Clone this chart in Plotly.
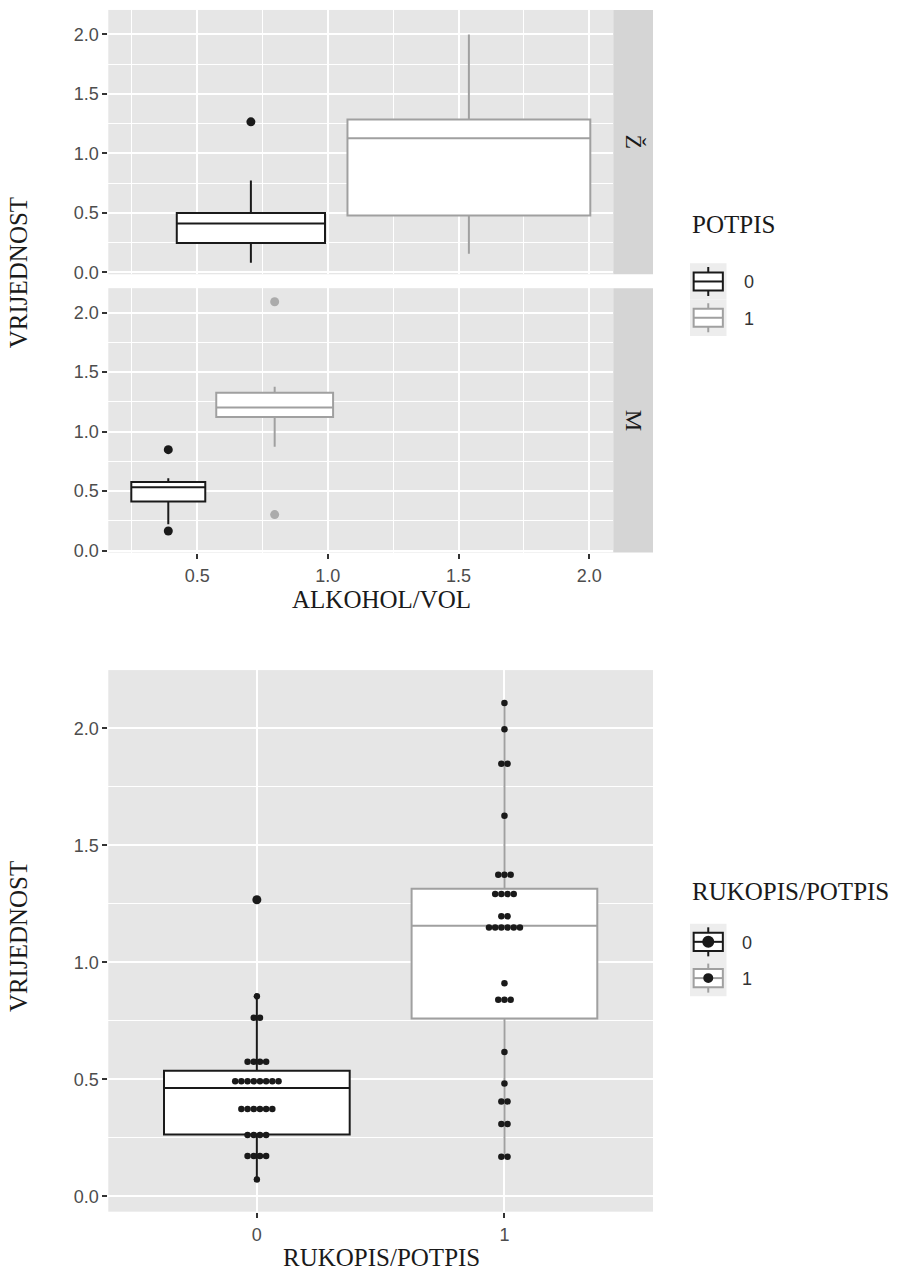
import plotly.graph_objects as go
from collections import Counter

W, H = 903, 1281

# ---------------- data ----------------
# Upper chart: VRIJEDNOST by ALKOHOL/VOL, facets Ž / M, groups POTPIS 0 / 1
potpis_levels = ["0", "1"]

# facet Ž
alk_min_z = [0.422, 1.075]
alk_max_z = [0.989, 2.004]
q1_z = [0.245, 0.477]
med_z = [0.409, 1.128]
q3_z = [0.499, 1.285]
low_z = [0.081, 0.155]
high_z = [0.771, 2.000]
out_z = [[1.265], []]

# facet M
alk_min_m = [0.248, 0.573]
alk_max_m = [0.531, 1.020]
q1_m = [0.413, 1.122]
med_m = [0.532, 1.203]
q3_m = [0.576, 1.327]
low_m = [0.220, 0.873]
high_m = [0.607, 1.377]
out_m = [[0.848, 0.164], [2.092, 0.302]]

# Lower chart: VRIJEDNOST by RUKOPIS/POTPIS
rukopis_levels = [0, 1]
q1_r = [0.265, 0.760]
med_r = [0.463, 1.157]
q3_r = [0.537, 1.315]
low_r = [0.073, 0.170]
high_r = [0.855, 2.108]
out_r = [[1.268], []]

dots_r0 = [0.073,
           0.173, 0.173, 0.173, 0.173,
           0.263, 0.263, 0.263, 0.263,
           0.374, 0.374, 0.374, 0.374, 0.374, 0.374,
           0.492, 0.492, 0.492, 0.492, 0.492, 0.492, 0.492, 0.492,
           0.576, 0.576, 0.576, 0.576,
           0.764, 0.764,
           0.855,
           1.268]
dots_r1 = [0.170, 0.170,
           0.310, 0.310,
           0.406, 0.406,
           0.483,
           0.617,
           0.840, 0.840, 0.840,
           0.911,
           1.149, 1.149, 1.149, 1.149, 1.149, 1.149,
           1.197, 1.197,
           1.292, 1.292, 1.292, 1.292,
           1.375, 1.375, 1.375,
           1.627,
           1.849, 1.849,
           1.996,
           2.108]

# ---------------- styling ----------------
GROUP_LINE = ["#1a1a1a", "#a0a0a0"]
GROUP_POINT = ["#1a1a1a", "#ababab"]
PANEL_BG = "#e6e6e6"
STRIP_BG = "#d5d5d5"
KEY_BG = "#ededed"
SERIF = "Liberation Serif, Times New Roman, serif"
SANS = "Liberation Sans, Arial, sans-serif"
TICK_FONT = dict(family=SANS, size=18, color="#4d4d4d")
TITLE_FONT = dict(family=SERIF, size=25, color="#1a1a1a")
DOT_STEP = 0.0250   # horizontal spacing of stacked dots (x-axis units)


def fx(px):
    return px / W


def fy(py):
    return 1 - py / H


fig = go.Figure()


def add_facet(xa, ya, lo_x, hi_x, q1, med, q3, low, high, outs):
    for g in range(len(potpis_levels)):
        centre = (lo_x[g] + hi_x[g]) / 2
        fig.add_trace(go.Box(
            x=[centre], q1=[q1[g]], median=[med[g]], q3=[q3[g]],
            lowerfence=[low[g]], upperfence=[high[g]],
            width=hi_x[g] - lo_x[g], whiskerwidth=0,
            fillcolor="white", line=dict(color=GROUP_LINE[g], width=2),
            boxpoints=False, hoverinfo="skip", showlegend=False,
            xaxis=xa, yaxis=ya, name=potpis_levels[g]))
        if outs[g]:
            fig.add_trace(go.Scatter(
                x=[centre] * len(outs[g]), y=outs[g], mode="markers",
                marker=dict(color=GROUP_POINT[g], size=9),
                showlegend=False, hoverinfo="skip", xaxis=xa, yaxis=ya))


add_facet("x", "y", alk_min_z, alk_max_z, q1_z, med_z, q3_z, low_z, high_z, out_z)
add_facet("x2", "y2", alk_min_m, alk_max_m, q1_m, med_m, q3_m, low_m, high_m, out_m)

# lower chart boxes
for g, cat in enumerate(rukopis_levels):
    fig.add_trace(go.Box(
        x=[cat], q1=[q1_r[g]], median=[med_r[g]], q3=[q3_r[g]],
        lowerfence=[low_r[g]], upperfence=[high_r[g]],
        width=0.75, whiskerwidth=0,
        fillcolor="white", line=dict(color=GROUP_LINE[g], width=2),
        boxpoints=False, hoverinfo="skip", showlegend=False,
        xaxis="x3", yaxis="y3", name=str(cat)))


def stacked(centre, values, step):
    xs, ys = [], []
    for v, n in Counter(values).items():
        for i in range(n):
            xs.append(centre + (i - (n - 1) / 2) * step)
            ys.append(v)
    return xs, ys


for cat, vals in zip(rukopis_levels, [dots_r0, dots_r1]):
    xs, ys = stacked(cat, vals, DOT_STEP)
    fig.add_trace(go.Scatter(
        x=xs, y=ys, mode="markers",
        marker=dict(color="#1a1a1a", size=6.5),
        showlegend=False, hoverinfo="skip", xaxis="x3", yaxis="y3"))

for g, cat in enumerate(rukopis_levels):
    if out_r[g]:
        fig.add_trace(go.Scatter(
            x=[cat] * len(out_r[g]), y=out_r[g], mode="markers",
            marker=dict(color=GROUP_POINT[g], size=9),
            showlegend=False, hoverinfo="skip", xaxis="x3", yaxis="y3"))

# ---------------- axes ----------------
grid = dict(showgrid=True, gridcolor="white", gridwidth=2, zeroline=False,
            showline=False)
minor = dict(showgrid=True, gridcolor="white", gridwidth=1, ticks="")
yticks = dict(ticks="outside", ticklen=5, tickwidth=1.5, tickcolor="#333333",
              tickfont=TICK_FONT, tickformat=".1f", dtick=0.5, tick0=0)
xticks = dict(ticks="outside", ticklen=5, tickwidth=1.5, tickcolor="#333333",
              tickfont=TICK_FONT, ticklabelstandoff=2)

top_x_dom = [fx(108.3), fx(613.3)]
xr_top = [0.160, 2.092]
yr_top = [-0.017, 2.206]

fig.update_layout(
    width=W, height=H, margin=dict(l=0, r=0, t=0, b=0),
    paper_bgcolor="white", plot_bgcolor=PANEL_BG, boxmode="overlay",
    showlegend=False,
    xaxis=dict(domain=top_x_dom, anchor="y", range=xr_top, dtick=0.5, tick0=0,
               showticklabels=False, ticks="", minor=dict(dtick=0.25, **minor), **grid),
    yaxis=dict(domain=[fy(276), fy(10)], anchor="x", range=yr_top,
               minor=dict(dtick=0.25, **minor), **grid, **yticks),
    xaxis2=dict(domain=top_x_dom, anchor="y2", range=xr_top, dtick=0.5, tick0=0,
                tickformat=".1f", minor=dict(dtick=0.25, **minor), **grid, **xticks),
    yaxis2=dict(domain=[fy(556), fy(290)], anchor="x2", range=yr_top,
                minor=dict(dtick=0.25, **minor), **grid, **yticks),
    xaxis3=dict(domain=[fx(108.3), fx(653)], anchor="y3", range=[-0.6, 1.6],
                tickvals=rukopis_levels, ticktext=[str(c) for c in rukopis_levels],
                **grid, **xticks),
    yaxis3=dict(domain=[fy(1219.3), fy(674.3)], anchor="x3", range=[-0.065, 2.249],
                minor=dict(dtick=0.25, **minor), **grid, **yticks),
)

# ---------------- facet strips ----------------
shapes = []
annotations = []
for (top, bot), label in [((10, 276), "Ž"), ((290, 556), "M")]:
    shapes.append(dict(type="rect", xref="paper", yref="paper",
                       x0=fx(613.3), x1=fx(653), y0=fy(bot), y1=fy(top),
                       fillcolor=STRIP_BG, line=dict(width=0), layer="below"))
    annotations.append(dict(text=label, xref="paper", yref="paper",
                            x=fx(633.5), y=fy((top + bot) / 2), showarrow=False,
                            textangle=90, font=dict(family=SERIF, size=24, color="#1a1a1a"),
                            xanchor="center", yanchor="middle"))

# ---------------- axis titles ----------------
for text, x, y, ang in [("VRIJEDNOST", 18, 275, -90),
                        ("ALKOHOL/VOL", 381, 603, 0),
                        ("VRIJEDNOST", 18, 943, -90),
                        ("RUKOPIS/POTPIS", 381, 1265, 0)]:
    annotations.append(dict(text=text, xref="paper", yref="paper", x=fx(x), y=fy(y),
                            showarrow=False, textangle=ang, font=TITLE_FONT,
                            xanchor="center", yanchor="middle"))


# ---------------- legends ----------------
def legend_key(x0, y0, s, color, dot=None):
    shapes.append(dict(type="rect", xref="paper", yref="paper",
                       x0=fx(x0), x1=fx(x0 + s), y0=fy(y0 + s), y1=fy(y0),
                       fillcolor=KEY_BG, line=dict(width=0)))
    xm = x0 + s / 2
    for a, b in [(0.1, 0.25), (0.75, 0.9)]:
        shapes.append(dict(type="line", xref="paper", yref="paper",
                           x0=fx(xm), x1=fx(xm), y0=fy(y0 + a * s), y1=fy(y0 + b * s),
                           line=dict(color=color, width=2)))
    shapes.append(dict(type="rect", xref="paper", yref="paper",
                       x0=fx(x0 + 0.1 * s), x1=fx(x0 + 0.9 * s),
                       y0=fy(y0 + 0.75 * s), y1=fy(y0 + 0.25 * s),
                       fillcolor="white", line=dict(color=color, width=2)))
    shapes.append(dict(type="line", xref="paper", yref="paper",
                       x0=fx(x0 + 0.1 * s), x1=fx(x0 + 0.9 * s),
                       y0=fy(y0 + 0.5 * s), y1=fy(y0 + 0.5 * s),
                       line=dict(color=color, width=2)))
    if dot:
        r = dot / 2
        ym = y0 + s / 2
        shapes.append(dict(type="circle", xref="paper", yref="paper",
                           x0=fx(xm - r), x1=fx(xm + r), y0=fy(ym + r), y1=fy(ym - r),
                           fillcolor="#1a1a1a", line=dict(width=0)))


LEG_FONT = dict(family=SANS, size=18, color="#333333")
KEY = 36.5

annotations.append(dict(text="POTPIS", xref="paper", yref="paper", x=fx(690), y=fy(226),
                        showarrow=False, font=TITLE_FONT, xanchor="left", yanchor="middle"))
for g, lab in enumerate(potpis_levels):
    y0 = 265 + g * KEY
    legend_key(690, y0, KEY, GROUP_LINE[g])
    annotations.append(dict(text=lab, xref="paper", yref="paper", x=fx(742),
                            y=fy(y0 + KEY / 2 + 1), showarrow=False, font=LEG_FONT,
                            xanchor="left", yanchor="middle"))

annotations.append(dict(text="RUKOPIS/POTPIS", xref="paper", yref="paper", x=fx(690),
                        y=fy(897), showarrow=False, font=TITLE_FONT,
                        xanchor="left", yanchor="middle"))
for g, lab in enumerate(rukopis_levels):
    y0 = 929.5 + g * KEY
    legend_key(690, y0, KEY, GROUP_LINE[g], dot=12 if g == 0 else 10)
    annotations.append(dict(text=str(lab), xref="paper", yref="paper", x=fx(740),
                            y=fy(y0 + KEY / 2 + 1), showarrow=False, font=LEG_FONT,
                            xanchor="left", yanchor="middle"))

fig.update_layout(shapes=shapes, annotations=annotations)
fig.write_html("out.html")
